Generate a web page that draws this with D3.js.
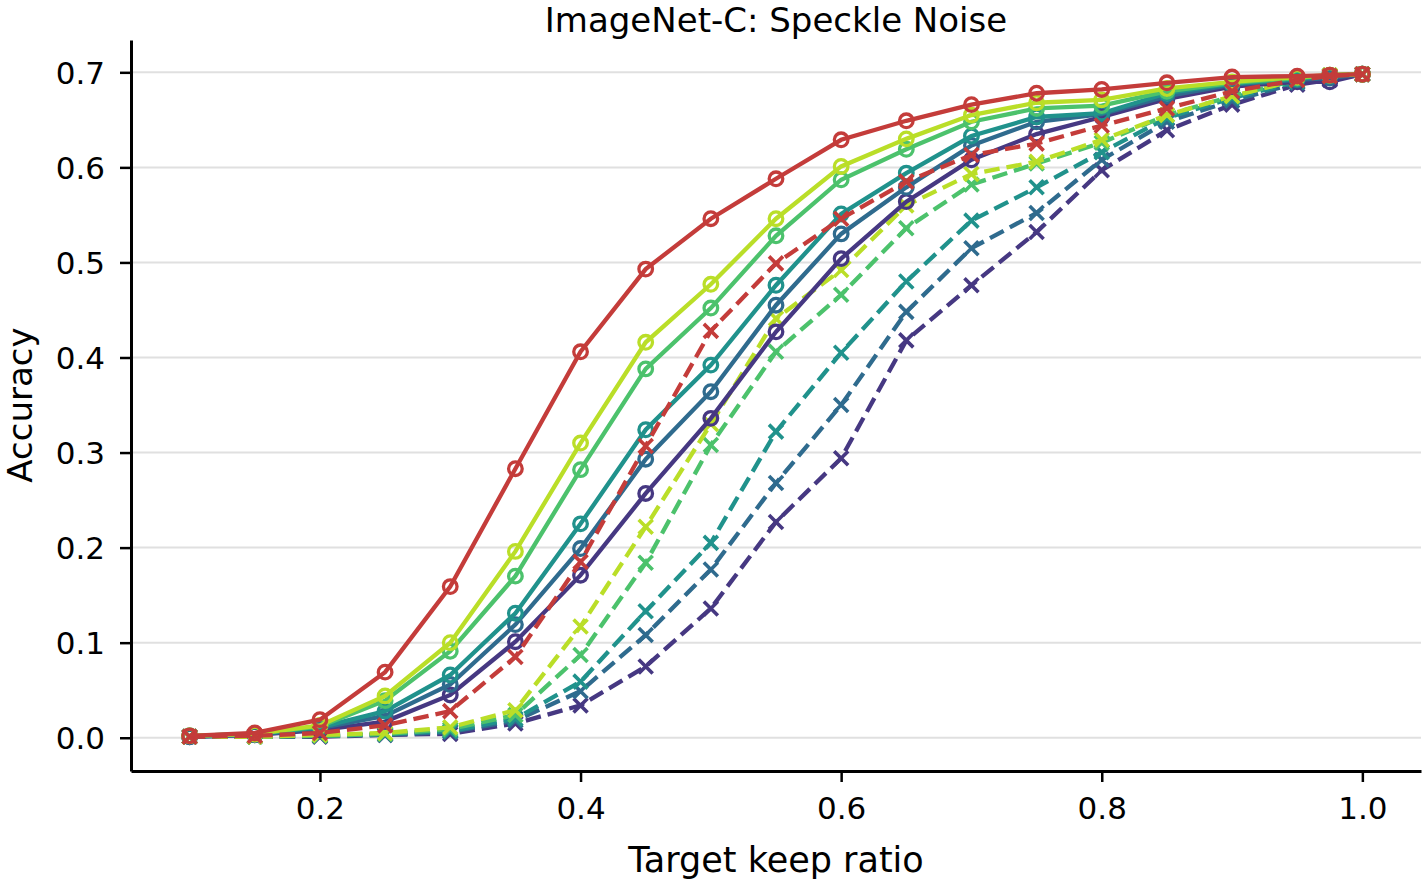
<!DOCTYPE html>
<html>
<head>
	<style>
		body { margin: 0; background: white; }
		svg text { font-family: "DejaVu Sans", sans-serif; fill: black; }
	</style>
	<script src="https://d3js.org/d3.v7.min.js"></script>
</head>
<body>
	<svg id="chart" width="1424" height="883"></svg>
<script>
// keep ratios on the x axis
var keepRatio = [0.1, 0.15, 0.2, 0.25, 0.3, 0.35, 0.4, 0.45, 0.5, 0.55, 0.6, 0.65, 0.7, 0.75, 0.8, 0.85, 0.9, 0.95, 0.975, 1.0];

// solid lines (circle markers)
var solidRed    = [0.002,0.005,0.019,0.069,0.159,0.283,0.406,0.493,0.546,0.588,0.629,0.649,0.666,0.678,0.682,0.689,0.695,0.696,0.697,0.698];
var solidYellow = [0.002,0.004,0.013,0.044,0.100,0.196,0.310,0.416,0.477,0.546,0.601,0.630,0.655,0.668,0.671,0.683,0.690,0.695,0.697,0.698];
var solidGreen  = [0.002,0.004,0.012,0.039,0.091,0.170,0.282,0.388,0.452,0.528,0.587,0.619,0.648,0.662,0.665,0.680,0.689,0.694,0.697,0.698];
var solidTeal   = [0.002,0.004,0.011,0.028,0.066,0.131,0.225,0.324,0.392,0.476,0.551,0.594,0.633,0.653,0.657,0.678,0.688,0.693,0.696,0.698];
var solidBlue   = [0.001,0.003,0.010,0.023,0.056,0.119,0.199,0.293,0.364,0.455,0.530,0.579,0.623,0.648,0.656,0.675,0.687,0.692,0.694,0.698];
var solidPurple = [0.001,0.003,0.008,0.017,0.045,0.101,0.171,0.257,0.336,0.427,0.504,0.564,0.608,0.635,0.653,0.672,0.685,0.690,0.690,0.698];

// dashed lines (x markers)
var dashRed    = [0.001,0.002,0.005,0.013,0.028,0.085,0.185,0.307,0.428,0.499,0.546,0.585,0.613,0.625,0.644,0.662,0.680,0.692,0.696,0.698];
var dashYellow = [0.001,0.001,0.003,0.005,0.011,0.029,0.117,0.222,0.330,0.441,0.492,0.560,0.593,0.606,0.629,0.655,0.675,0.692,0.697,0.698];
var dashGreen  = [0.001,0.001,0.002,0.004,0.009,0.024,0.087,0.184,0.308,0.406,0.466,0.536,0.582,0.604,0.626,0.655,0.675,0.692,0.697,0.698];
var dashTeal   = [0.001,0.001,0.002,0.004,0.007,0.020,0.059,0.133,0.205,0.322,0.405,0.480,0.544,0.579,0.616,0.652,0.673,0.690,0.695,0.698];
var dashBlue   = [0.001,0.001,0.002,0.003,0.006,0.018,0.049,0.108,0.177,0.268,0.350,0.448,0.515,0.552,0.608,0.648,0.670,0.689,0.694,0.698];
var dashPurple = [0.001,0.001,0.001,0.003,0.004,0.015,0.034,0.075,0.136,0.227,0.294,0.418,0.476,0.532,0.597,0.639,0.666,0.687,0.692,0.698];

var xTicks = [0.2, 0.4, 0.6, 0.8, 1.0];
var yTicks = [0.0, 0.1, 0.2, 0.3, 0.4, 0.5, 0.6, 0.7];

var colors = {red: "#c43c3a", yellow: "#bade28", green: "#4cc26c", teal: "#20928c", blue: "#2f6b8e", purple: "#463882"};

// draw order: dashed first, then solid, red pair last
var series = [
	{values: dashPurple, color: colors.purple, dashed: true},
	{values: dashBlue, color: colors.blue, dashed: true},
	{values: dashTeal, color: colors.teal, dashed: true},
	{values: dashGreen, color: colors.green, dashed: true},
	{values: dashYellow, color: colors.yellow, dashed: true},
	{values: solidPurple, color: colors.purple, dashed: false},
	{values: solidBlue, color: colors.blue, dashed: false},
	{values: solidTeal, color: colors.teal, dashed: false},
	{values: solidGreen, color: colors.green, dashed: false},
	{values: solidYellow, color: colors.yellow, dashed: false},
	{values: dashRed, color: colors.red, dashed: true},
	{values: solidRed, color: colors.red, dashed: false}
];

var svg = d3.select("svg#chart");
let margin = {top: 40, right: 3, bottom: 112, left: 131};
let svgWidth = +svg.attr("width");
let svgHeight = +svg.attr("height");

let x = d3.scaleLinear()
	.domain([0.055, 1.045])
	.range([margin.left, svgWidth - margin.right]);
let y = d3.scaleLinear()
	.domain([-0.035, 0.734])
	.range([svgHeight - margin.bottom, margin.top]);

// gridlines
svg.append("g").selectAll("line").data(yTicks)
	.enter().append("line")
	.attr("x1", margin.left)
	.attr("x2", svgWidth - margin.right)
	.attr("y1", d => y(d))
	.attr("y2", d => y(d))
	.attr("stroke", "#e0e0e0")
	.attr("stroke-width", 2);

// axes
let xAxis = svg.append("g")
	.attr("transform", "translate(0," + (svgHeight - margin.bottom) + ")")
	.call(d3.axisBottom(x).tickValues(xTicks).tickFormat(d3.format(".1f")).tickSize(11).tickPadding(15).tickSizeOuter(0));
let yAxis = svg.append("g")
	.attr("transform", "translate(" + margin.left + ",0)")
	.call(d3.axisLeft(y).tickValues(yTicks).tickFormat(d3.format(".1f")).tickSize(11).tickPadding(15).tickSizeOuter(0));

[xAxis, yAxis].forEach(function(a){
	a.select(".domain").attr("stroke", "black").attr("stroke-width", 3);
	a.selectAll(".tick line").attr("stroke", "black").attr("stroke-width", 2.5);
	a.selectAll(".tick text").style("font-size", "31px").attr("fill", "black");
});
xAxis.selectAll(".tick text").attr("dy", "0.71em");
yAxis.selectAll(".tick text").attr("dy", "0.36em");

// lines and markers
let line = d3.line()
	.x((d, i) => x(keepRatio[i]))
	.y(d => y(d));

let plot = svg.append("g");
series.forEach(function(s){
	plot.append("path")
		.datum(s.values)
		.attr("d", line)
		.attr("fill", "none")
		.attr("stroke", s.color)
		.attr("stroke-width", 4.3)
		.attr("stroke-dasharray", s.dashed ? "15.5,7" : null);

	let pts = s.values.map((v, i) => ({x: x(keepRatio[i]), y: y(v)}));
	if (s.dashed) {
		let m = 7;
		let g = plot.append("g");
		g.selectAll("path").data(pts).enter().append("path")
			.attr("d", d => "M" + (d.x - m) + "," + (d.y - m) + "L" + (d.x + m) + "," + (d.y + m) +
				"M" + (d.x - m) + "," + (d.y + m) + "L" + (d.x + m) + "," + (d.y - m))
			.attr("stroke", s.color)
			.attr("stroke-width", 3.6)
			.attr("fill", "none");
	} else {
		plot.append("g").selectAll("circle").data(pts).enter().append("circle")
			.attr("cx", d => d.x)
			.attr("cy", d => d.y)
			.attr("r", 6.8)
			.attr("fill", "none")
			.attr("stroke", s.color)
			.attr("stroke-width", 3.3);
	}
});

// title and labels
svg.append("text")
	.attr("x", (margin.left + svgWidth - margin.right) / 2)
	.attr("y", 32)
	.attr("text-anchor", "middle")
	.style("font-size", "34px")
	.text("ImageNet-C: Speckle Noise");

svg.append("text")
	.attr("x", (margin.left + svgWidth - margin.right) / 2)
	.attr("y", 872)
	.attr("text-anchor", "middle")
	.style("font-size", "35px")
	.text("Target keep ratio");

svg.append("text")
	.attr("transform", "translate(32," + y(0.35) + ") rotate(-90)")
	.attr("text-anchor", "middle")
	.style("font-size", "34px")
	.text("Accuracy");
</script>
</body>
</html>
